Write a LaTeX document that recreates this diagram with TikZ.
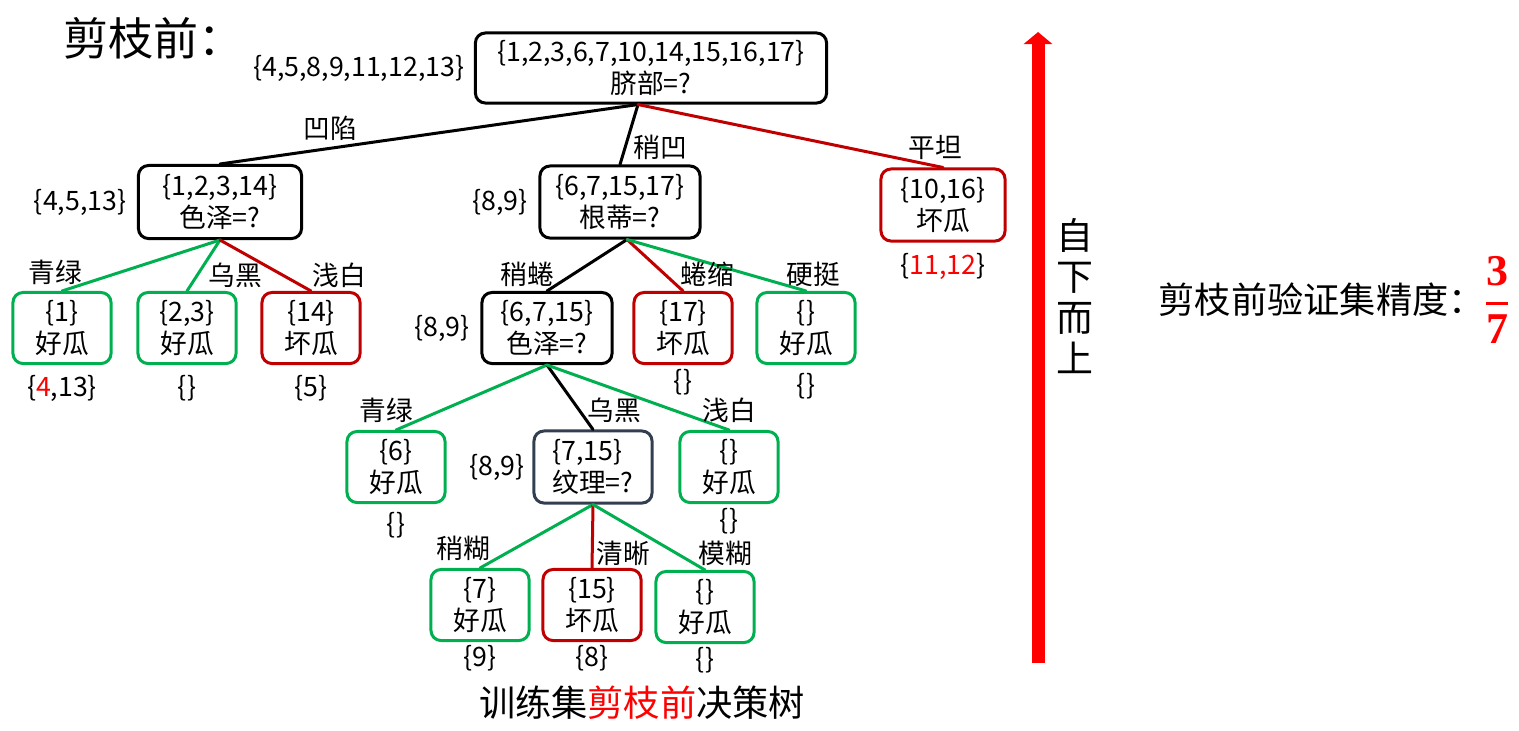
\documentclass[tikz,border=0pt]{standalone}
\usepackage{fontspec}
\setmainfont{Noto Sans CJK SC}
\newfontfamily\fracfont{Liberation Serif}
\usetikzlibrary{arrows.meta,positioning}

\definecolor{goodgreen}{RGB}{0,176,80}
\definecolor{badred}{RGB}{192,0,0}
\definecolor{slate}{RGB}{51,63,80}
\definecolor{hired}{RGB}{255,0,0}

\newcommand{\boxfont}{\fontsize{7.6}{9}\selectfont}

\tikzset{
  treebox/.style={draw, rounded corners=0.1cm, line width=0.03cm, align=center, inner sep=0pt, minimum height=0.71cm, font=\boxfont},
  goodleaf/.style={treebox, draw=goodgreen, minimum width=0.98cm},
  badleaf/.style={treebox, draw=badred, minimum width=0.98cm},
  question/.style={treebox, draw=black},
  setlab/.style={font=\boxfont, inner sep=0pt},
  branchlab/.style={font=\boxfont, inner sep=0pt},
  goodedge/.style={draw=goodgreen, line width=0.03cm},
  badedge/.style={draw=badred, line width=0.03cm},
  plainedge/.style={draw=black, line width=0.03cm},
}

\begin{document}
\begin{tikzpicture}[x=0.01cm, y=-0.01cm, line cap=round, line join=round]
\useasboundingbox (0,0) rectangle (1519,730);

\node[font=\fontsize{12.8}{15}\selectfont, inner sep=0pt, anchor=west] (title) at (63,38) {剪枝前：};

% level 0 and 1
\node[question, minimum width=3.51cm, minimum height=0.70cm] (root) at (651,68) {\{1,2,3,6,7,10,14,15,16,17\}\\脐部=?};
\node[question, minimum width=1.63cm, minimum height=0.73cm] (n1) at (220,202) {\{1,2,3,14\}\\色泽=?};
\node[question, minimum width=1.60cm, minimum height=0.72cm] (n2) at (620,202) {\{6,7,15,17\}\\根蒂=?};
\node[badleaf, minimum width=1.24cm, minimum height=0.72cm] (n3) at (943,205) {\{10,16\}\\坏瓜};
\coordinate (rootfoot) at ([xshift=-0.13cm]root.south);
\coordinate (n2foot) at ([xshift=0.07cm]n2.south);

% level 2
\node[goodleaf] (l1) at (62,328) {\{1\}\\好瓜};
\node[goodleaf] (l2) at (187,328) {\{2,3\}\\好瓜};
\node[badleaf] (l3) at (311,328) {\{14\}\\坏瓜};
\node[question, minimum width=1.30cm] (n4) at (547,328) {\{6,7,15\}\\色泽=?};
\node[badleaf] (l4) at (683,328) {\{17\}\\坏瓜};
\node[goodleaf] (l5) at (806,328) {\{\}\\好瓜};

% level 3
\node[goodleaf] (l6) at (396,467) {\{6\}\\好瓜};
\node[treebox, draw=slate, align=left, minimum width=1.18cm, minimum height=0.72cm] (n5) at (593,467) {\{7,15\}\\纹理=?};
\node[goodleaf] (l7) at (729,467) {\{\}\\好瓜};

% level 4
\node[goodleaf] (l8) at (480,605) {\{7\}\\好瓜};
\node[badleaf] (l9) at (592,605) {\{15\}\\坏瓜};
\node[goodleaf] (l10) at (705,607) {\{\}\\好瓜};

% validation sets
\node[setlab, left=0.09cm of root] (rootout) {\{4,5,8,9,11,12,13\}};
\node[setlab, left=0.1cm of n1] (n1out) {\{4,5,13\}};
\node[setlab, left=0.1cm of n2] (n2out) {\{8,9\}};
\node[setlab, left=0.1cm of n4] (n4out) {\{8,9\}};
\node[setlab, left=0.07cm of n5] (n5out) {\{8,9\}};
\node[setlab, below=0.1cm of n3] (n3out) {\{\textcolor{hired}{11,12}\}};
\node[setlab, below=0.1cm of l1] (l1out) {\{\textcolor{hired}{4},13\}};
\node[setlab, below=0.1cm of l2] (l2out) {\{\}};
\node[setlab, below=0.1cm of l3] (l3out) {\{5\}};
\node[setlab, below=0.04cm of l4] (l4out) {\{\}};
\node[setlab, below=0.08cm of l5] (l5out) {\{\}};
\node[setlab, below=0.08cm of l6] (l6out) {\{\}};
\node[setlab, below=0.04cm of l7] (l7out) {\{\}};
\node[setlab, below=0.03cm of l8] (l8out) {\{9\}};
\node[setlab, below=0.03cm of l9] (l9out) {\{8\}};
\node[setlab, below=0.03cm of l10] (l10out) {\{\}};

% branches
\draw[plainedge] (rootfoot) -- (n1.north);
\draw[plainedge] (rootfoot) -- (n2.north);
\draw[badedge] (rootfoot) -- (n3.north);
\draw[goodedge] (n1.south) -- (l1.north);
\draw[goodedge] (n1.south) -- (l2.north);
\draw[badedge] (n1.south) -- (l3.north);
\draw[plainedge] (n2foot) -- (n4.north);
\draw[badedge] (n2foot) -- (l4.north);
\draw[goodedge] (n2foot) -- (l5.north);
\draw[goodedge] (n4.south) -- (l6.north);
\draw[plainedge] (n4.south) -- (n5.north);
\draw[goodedge] (n4.south) -- (l7.north);
\draw[goodedge] (n5.south) -- (l8.north);
\draw[badedge] (n5.south) -- (l9.north);
\draw[goodedge] (n5.south) -- (l10.north);

% branch labels
\node[branchlab] (b1) at (330,128) {凹陷};
\node[branchlab] (b2) at (660,147) {稍凹};
\node[branchlab] (b3) at (935,147) {平坦};
\node[branchlab] (b4) at (55,272) {青绿};
\node[branchlab] (b5) at (235,275) {乌黑};
\node[branchlab] (b6) at (339,275) {浅白};
\node[branchlab] (b7) at (527,274) {稍蜷};
\node[branchlab] (b8) at (707,274) {蜷缩};
\node[branchlab] (b9) at (813,274) {硬挺};
\node[branchlab] (b10) at (386,410) {青绿};
\node[branchlab] (b11) at (614,410) {乌黑};
\node[branchlab] (b12) at (729,410) {浅白};
\node[branchlab] (b13) at (463,548) {稍糊};
\node[branchlab] (b14) at (623,553) {清晰};
\node[branchlab] (b15) at (725,553) {模糊};

\node[font=\fontsize{10.3}{12}\selectfont, inner sep=0pt] (caption) at (642,703) {训练集\textcolor{hired}{剪枝前}决策树};

% right side
\coordinate (arrowbot) at (1038,663);
\coordinate (arrowtop) at (1038,32);
\draw[hired, line width=0.13cm, line cap=butt, -{Triangle[width=0.28cm, length=0.12cm]}] (arrowbot) -- (arrowtop);
\node[align=center, font=\fontsize{10.5}{11.7}\selectfont, inner sep=0pt] (updir) at (1075,296) {自\\下\\而\\上};
\node[font=\fontsize{10.3}{12}\selectfont, inner sep=0pt, anchor=west] (acc) at (1158,300) {剪枝前验证集精度：};
\node[text=hired, font=\fontsize{12.5}{15}\selectfont\fracfont\bfseries, inner sep=0pt] (frac) at (1497,300) {$\displaystyle{\hbox{3}\above 0.9pt\hbox{7}}$};

\end{tikzpicture}
\end{document}
